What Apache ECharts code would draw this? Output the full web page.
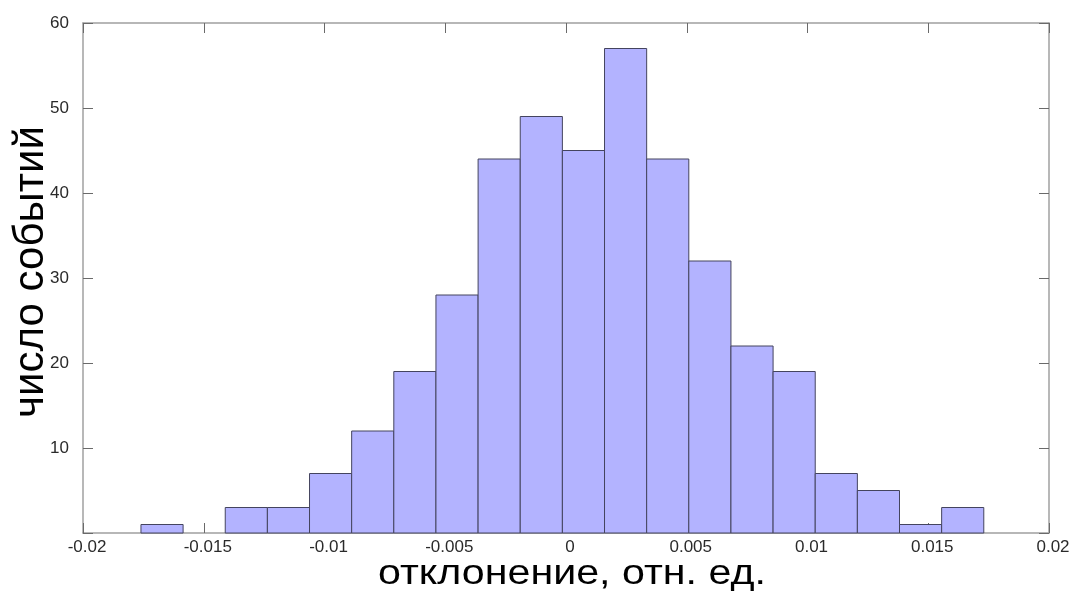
<!DOCTYPE html>
<html>
<head>
<meta charset="utf-8">
<script src="https://cdn.jsdelivr.net/npm/echarts@6/dist/echarts.min.js"></script>
<style>
  html, body { margin: 0; padding: 0; background: #fff; }
  #chart { width: 1071px; height: 592px; }
</style>
</head>
<body>
<div id="chart"></div>
<script>
// Histogram bin edges (relative deviation) and event counts per bin
const binEdges = [-0.01760, -0.015855, -0.01411, -0.012365, -0.01062, -0.008875,
  -0.00713, -0.005385, -0.00364, -0.001895, -0.00015, 0.001595, 0.00334,
  0.005085, 0.00683, 0.008575, 0.01032, 0.012065, 0.01381, 0.015555, 0.0173];
const counts = [1, 0, 3, 3, 7, 12, 19, 28, 44, 49, 45, 57, 44, 32, 22, 19, 7, 5, 1, 3];

const xTicks = [-0.02, -0.015, -0.01, -0.005, 0, 0.005, 0.01, 0.015, 0.02];
const yTicks = [10, 20, 30, 40, 50, 60];

const xTitle = 'отклонение, отн. ед.';
const yTitle = 'число событий';

const bins = counts.map((c, i) => [binEdges[i], binEdges[i + 1], c]);

const FONT = 'Liberation Sans, Arial, sans-serif';
const frameColor = '#a0a0a0';
const tickColor = '#6a6a6a';

// Stretch a title's glyph run so it covers the given length
function stretchFor(text, size, span) {
  const ctx = document.createElement('canvas').getContext('2d');
  ctx.font = size + 'px ' + FONT;
  return span / ctx.measureText(text).width;
}

const xLabel = v => {
  const hit = xTicks.find(t => Math.abs(t - v) < 1e-9);
  return hit === undefined ? '' : String(hit);
};
const yLabel = v => (yTicks.indexOf(Math.round(v)) >= 0 ? String(Math.round(v)) : '');

function frameAxis(pos) {
  return {
    position: pos,
    axisLine: { show: true, onZero: false, lineStyle: { color: frameColor, width: 1.5 } },
    axisTick: { show: true, inside: true, length: 10, lineStyle: { color: tickColor } },
    splitLine: { show: false }
  };
}

const X_TITLE_SIZE = 35.5;
const Y_TITLE_SIZE = 42;

const chart = echarts.init(document.getElementById('chart'), null, { renderer: 'canvas' });
chart.setOption({
  animation: false,
  backgroundColor: '#fff',
  grid: { left: 83, right: 22, top: 23, bottom: 59, containLabel: false, outerBoundsMode: 'none' },
  xAxis: [
    Object.assign(frameAxis('bottom'), {
      type: 'value', min: -0.02, max: 0.02, interval: 0.005,
      axisLabel: { formatter: xLabel, margin: 6, padding: [0, 0, 0, 8], color: '#2a2a2a', fontSize: 17, fontFamily: FONT }
    }),
    Object.assign(frameAxis('top'), {
      type: 'value', min: -0.02, max: 0.02, interval: 0.005, axisLabel: { show: false }
    })
  ],
  yAxis: [
    Object.assign(frameAxis('left'), {
      type: 'value', min: 0, max: 60, interval: 10,
      axisLabel: { formatter: yLabel, margin: 14, color: '#2a2a2a', fontSize: 17, fontFamily: FONT }
    }),
    Object.assign(frameAxis('right'), {
      type: 'value', min: 0, max: 60, interval: 10, axisLabel: { show: false }
    })
  ],
  graphic: [
    {
      type: 'text', x: 572, y: 574, scaleX: stretchFor(xTitle, X_TITLE_SIZE, 388),
      style: { text: xTitle, fill: '#000', font: X_TITLE_SIZE + 'px ' + FONT, align: 'center', verticalAlign: 'middle' }
    },
    {
      type: 'text', x: 31, y: 272, rotation: Math.PI / 2, scaleX: stretchFor(yTitle, Y_TITLE_SIZE, 292),
      style: { text: yTitle, fill: '#000', font: Y_TITLE_SIZE + 'px ' + FONT, align: 'center', verticalAlign: 'middle' }
    }
  ],
  series: [{
    type: 'custom',
    xAxisIndex: 0,
    yAxisIndex: 0,
    data: bins,
    encode: { x: [0, 1], y: 2 },
    renderItem: function (params, api) {
      const h = api.value(2);
      if (!h) return null;
      const p0 = api.coord([api.value(0), h]);
      const p1 = api.coord([api.value(1), 0]);
      return {
        type: 'rect',
        shape: { x: p0[0], y: p0[1], width: p1[0] - p0[0], height: p1[1] - p0[1] },
        style: { fill: '#b3b3ff', stroke: '#44445e', lineWidth: 1 }
      };
    }
  }]
});
</script>
</body>
</html>
